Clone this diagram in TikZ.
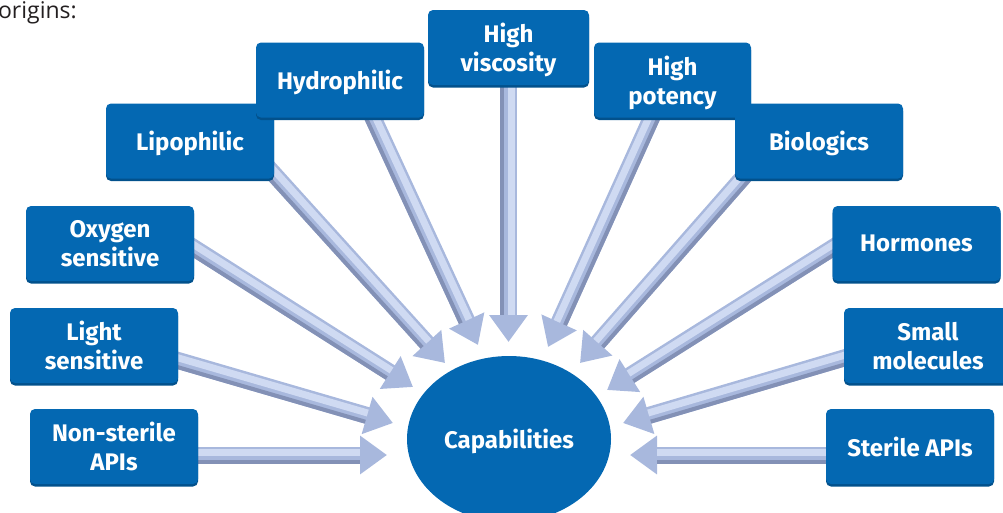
\documentclass[tikz,border=0pt]{standalone}
\usepackage{fontspec}
\setmainfont{Fira Sans}
\newfontfamily\opensans{Open Sans}
\usetikzlibrary{arrows.meta,shapes.geometric,shadows,backgrounds}
\definecolor{boxblue}{HTML}{0468B2}
\definecolor{boxshade}{HTML}{02518C}
\definecolor{arwmid}{HTML}{A8B8DD}
\definecolor{arwdark}{HTML}{8391B6}
\definecolor{arwhi}{HTML}{CFDAF2}
\definecolor{ink}{HTML}{231F20}
% start, tip, light side normal (x,y)
\newcommand{\arw}[4]{%
  \draw[fat] (#1) -- (#2);
  \draw[edge,transform canvas={shift={({-6.5*#3},{-6.5*#4})}}] (#1) -- (#2);
  \draw[shine,transform canvas={shift={({2.5*#3},{2.5*#4})}}] (#1) -- (#2);}

\begin{document}
\begin{tikzpicture}[x=1pt,y=-1pt,
  tagbox/.style={rectangle,rounded corners=5pt,fill=boxblue,text=white,
    font=\fontsize{24}{29}\selectfont\bfseries,align=center,inner sep=0pt,
    minimum width=168pt,minimum height=75pt,text depth=0pt,
    drop shadow={shadow xshift=0pt,shadow yshift=-2.5pt,fill=boxshade,opacity=1}},
  hub/.style={ellipse,fill=boxblue,text=white,inner sep=0pt,
    font=\fontsize{24}{29}\selectfont\bfseries,text depth=0pt,
    minimum width=204pt,minimum height=166pt},
  fat/.style={line width=17pt,arwmid,shorten <=-30pt,
    -{Triangle[width=37pt,length=27pt]}},
  edge/.style={line width=4pt,arwdark,shorten <=-30pt,shorten >=27pt},
  shine/.style={line width=7pt,arwhi,shorten <=-30pt,shorten >=27pt}]
  \useasboundingbox (0,0) rectangle (1003,512);

  \node[anchor=base east,text=ink,inner sep=0pt,
        font=\opensans\fontsize{23}{27}\selectfont] (origins) at (77,18) {origins:};

  % boxes
  \node[tagbox] (ns) at (114,446.5) {Non-sterile\\APIs};
  \node[tagbox] (ls) at ( 94,345.5) {Light\\sensitive};
  \node[tagbox] (ox) at (110,243.5) {Oxygen\\sensitive};
  \node[tagbox] (li) at (190,141)   {Lipophilic};
  \node[tagbox] (hy) at (340, 80)   {Hydrophilic};
  \node[tagbox,minimum width=161pt] (vi) at (508.5,47.5) {High\\viscosity};
  \node[tagbox,minimum width=157pt] (po) at (672.5,80)   {High\\potency};
  \node[tagbox] (bi) at (819,141)   {Biologics};
  \node[tagbox] (ho) at (916.5,243.5) {Hormones};
  \node[tagbox] (sm) at (928,345.5) {Small\\molecules};
  \node[tagbox] (st) at (910,446.5) {Sterile APIs};

  \node[hub] (capab) at (509,439) {Capabilities};

  % arrow tips
  \coordinate (tns) at (387,455);
  \coordinate (tls) at (393,423);
  \coordinate (tox) at (413,387);
  \coordinate (tli) at (445,363);
  \coordinate (thy) at (478,345);
  \coordinate (tvi) at (508.5,342);
  \coordinate (tpo) at (548,347);
  \coordinate (tbi) at (580,363);
  \coordinate (tho) at (607,390);
  \coordinate (tsm) at (623,423);
  \coordinate (tst) at (630,455);

  \begin{scope}[on background layer]
    \arw{[yshift=-8.5pt]ns.east}{tns}{0}{-1}
    \arw{[yshift=-15pt]ls.east}{tls}{0.279}{-0.960}
    \arw{[yshift=-4.5pt]ox.east}{tox}{0.536}{-0.844}
    \arw{[xshift=4pt]li.south east}{tli}{0.742}{-0.670}
    \arw{[xshift=33pt]hy.south}{thy}{0.908}{-0.418}
    \arw{vi.south}{tvi}{1}{0}
    \arw{[xshift=-21pt]po.south}{tpo}{-0.912}{-0.410}
    \arw{[xshift=7pt]bi.south west}{tbi}{-0.750}{-0.661}
    \arw{[yshift=-4.5pt]ho.west}{tho}{-0.534}{-0.846}
    \arw{[yshift=-12.5pt]sm.west}{tsm}{-0.282}{-0.959}
    \arw{[yshift=-8.5pt]st.west}{tst}{0}{-1}
  \end{scope}
\end{tikzpicture}
\end{document}
